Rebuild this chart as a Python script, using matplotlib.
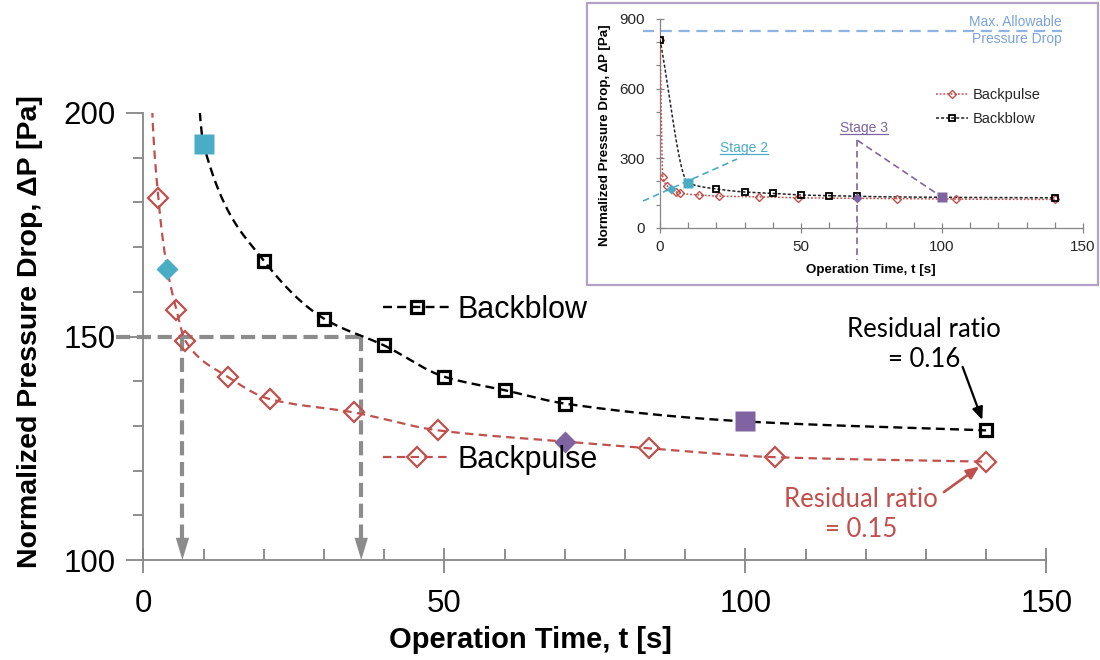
import numpy as np
import matplotlib
matplotlib.use("Agg")
import matplotlib.pyplot as plt
from matplotlib.patches import Rectangle
from matplotlib.lines import Line2D

# ---------------- data ----------------
bp_t = [0, 1, 2.5, 4, 5.5, 7, 14, 21, 35, 49, 70, 84, 105, 140]
bp_p = [810, 220, 181, 165, 156, 149, 141, 136, 133, 129, 126.5, 125, 123, 122]
bb_t = [0, 10, 20, 30, 40, 50, 60, 70, 100, 140]
bb_p = [810, 193, 167, 154, 148, 141, 138, 135, 131, 129]
bp_stage2, bp_stage3 = 3, 10      # indices of highlighted backpulse points
bb_stage2, bb_stage3 = 1, 8       # indices of highlighted backblow points
threshold = 150                   # guide level
cross_t = [6.5, 36.2]             # times where curves reach the guide level
max_allow = 850
res_bb_label = "Residual ratio\n= 0.16"
res_bp_label = "Residual ratio\n= 0.15"

RED = "#C0504D"
CYAN = "#4BACC6"
PURPLE = "#8064A2"
GREY = "#8C8C8C"
SPINE = "#868686"

plt.rcParams["font.family"] = ["Liberation Sans", "DejaVu Sans"]


def smooth(x, y, n=40):
    """Monotone cubic rendering of a 'smoothed line' through the data points."""
    x = np.asarray(x, float)
    y = np.asarray(y, float)
    h = np.diff(x)
    d = np.diff(y) / h
    m = np.zeros_like(y)
    m[0], m[-1] = d[0], d[-1]
    for k in range(1, len(x) - 1):
        if d[k - 1] * d[k] > 0:
            w1 = 2 * h[k] + h[k - 1]
            w2 = h[k] + 2 * h[k - 1]
            m[k] = (w1 + w2) / (w1 / d[k - 1] + w2 / d[k])
    xs, ys = [], []
    for k in range(len(h)):
        s = np.linspace(0, 1, n, endpoint=(k == len(h) - 1))
        h00 = 2 * s**3 - 3 * s**2 + 1
        h10 = s**3 - 2 * s**2 + s
        h01 = -2 * s**3 + 3 * s**2
        h11 = s**3 - s**2
        xs.append(x[k] + s * h[k])
        ys.append(h00 * y[k] + h10 * h[k] * m[k] + h01 * y[k + 1] + h11 * h[k] * m[k + 1])
    return np.concatenate(xs), np.concatenate(ys)


bp_t_a, bp_p_a = np.array(bp_t), np.array(bp_p)
bb_t_a, bb_p_a = np.array(bb_t), np.array(bb_p)
bp_mask = np.ones(len(bp_t), bool); bp_mask[[bp_stage2, bp_stage3]] = False
bb_mask = np.ones(len(bb_t), bool); bb_mask[[bb_stage2, bb_stage3]] = False

fig = plt.figure(figsize=(11, 6.6), dpi=100)

# ================= main axes =================
ax = fig.add_axes([143.3 / 1100, 1 - 560 / 660, 903 / 1100, 447 / 660])
ax.set_xlim(0, 150)
ax.set_ylim(100, 200)
for s in ("top", "right"):
    ax.spines[s].set_visible(False)
for s in ("left", "bottom"):
    ax.spines[s].set_color(SPINE)
    ax.spines[s].set_linewidth(1.3)

ax.set_xticks([0, 50, 100, 150])
ax.set_xticks(np.arange(0, 151, 10), minor=True)
ax.set_yticks([100, 150, 200])
ax.set_yticks(np.arange(100, 201, 10), minor=True)
ax.tick_params(axis="x", which="major", direction="inout", length=18, width=1.3,
               color=SPINE, labelsize=22.5, pad=12)
ax.tick_params(axis="x", which="minor", direction="in", length=8, width=1.3, color=SPINE)
ax.tick_params(axis="y", which="major", direction="out", length=12, width=1.3,
               color=SPINE, labelsize=22.5, pad=8)
ax.tick_params(axis="y", which="minor", direction="out", length=7, width=1.3, color=SPINE)

# smoothed series lines
xs, ys = smooth(bp_t, bp_p)
ax.plot(xs, ys, color=RED, lw=1.6, dashes=(3.8, 2.4), zorder=3)
xs, ys = smooth(bb_t, bb_p)
ax.plot(xs, ys, color="black", lw=1.7, dashes=(3.8, 2.2), zorder=3)

# markers
ax.plot(bp_t_a[bp_mask], bp_p_a[bp_mask], ls="none", marker="D", ms=10.5,
        mfc="none", mec=RED, mew=1.6, zorder=4)
ax.plot(bb_t_a[bb_mask], bb_p_a[bb_mask], ls="none", marker="s", ms=9,
        mfc="none", mec="black", mew=2.3, zorder=4)
ax.plot(bp_t[bp_stage2], bp_p[bp_stage2], ls="none", marker="D", ms=11, mfc=CYAN, mec="none", zorder=5)
ax.plot(bp_t[bp_stage3], bp_p[bp_stage3], ls="none", marker="D", ms=11.5, mfc=PURPLE, mec="none", zorder=5)
ax.plot(bb_t[bb_stage2], bb_p[bb_stage2], ls="none", marker="s", ms=15, mfc=CYAN, mec="none", zorder=5)
ax.plot(bb_t[bb_stage3], bb_p[bb_stage3], ls="none", marker="s", ms=15, mfc=PURPLE, mec="none", zorder=5)

# grey guide lines with arrows
ax.plot([-4.6, cross_t[1]], [threshold, threshold], color=GREY, lw=3.0,
        dashes=(3.4, 1.6), clip_on=False, zorder=2, solid_capstyle="butt")
for ct in cross_t:
    ax.plot([ct, ct], [threshold, 103.5], color=GREY, lw=3.0, dashes=(3.4, 1.6), zorder=2)
    ax.annotate("", xy=(ct, 100), xytext=(0, 16), textcoords="offset points",
                arrowprops=dict(arrowstyle="-|>,head_length=1.6,head_width=0.48",
                                color=GREY, lw=0, shrinkA=0, shrinkB=0), zorder=2)

# residual ratio annotations
ax.text(129.7, 148.1, res_bb_label, ha="center", va="center", fontsize=18.5,
        family="Lato", color="black", linespacing=1.25)
ax.annotate("", xy=(bb_t[-1], bb_p[-1]), xytext=(136.1, 143.2),
            arrowprops=dict(arrowstyle="-|>,head_length=0.75,head_width=0.32",
                            color="black", lw=1.6, shrinkA=0, shrinkB=8))
ax.text(119.2, 110.1, res_bp_label, ha="center", va="center", fontsize=18.5,
        family="Lato", color=RED, linespacing=1.25)
ax.annotate("", xy=(bp_t[-1], bp_p[-1]), xytext=(133.0, 115.2),
            arrowprops=dict(arrowstyle="-|>,head_length=0.75,head_width=0.32",
                            color=RED, lw=1.9, shrinkA=0, shrinkB=6))

ax.set_xlabel("Operation Time, t [s]", fontsize=21, fontweight="bold")
ax.xaxis.set_label_coords((530 - 143.3) / 903, (560 - 640) / 447)
ax.xaxis.label.set_va("center")
ax.set_ylabel("Normalized Pressure Drop, \u0394P [Pa]", fontsize=20.5, fontweight="bold")
ax.yaxis.set_label_coords((30 - 143.3) / 903, (560 - 332) / 447)
ax.yaxis.label.set_va("center")

# main legends (two separate entries)
h_bb = Line2D([], [], color="black", lw=1.7, dashes=(3.8, 2.2), marker="s", ms=9,
              mfc="none", mec="black", mew=2.3)
h_bp = Line2D([], [], color=RED, lw=1.6, dashes=(3.8, 2.4), marker="D", ms=10.5,
              mfc="none", mec=RED, mew=1.6)
leg_kw = dict(loc="center left", bbox_transform=fig.transFigure, frameon=False,
              fontsize=22, handlelength=2.2, handletextpad=0.25, borderpad=0,
              borderaxespad=0, numpoints=1)
leg1 = ax.legend([h_bb], ["Backblow"], bbox_to_anchor=(383 / 1100, 1 - 310 / 660), **leg_kw)
ax.add_artist(leg1)
ax.legend([h_bp], ["Backpulse"], bbox_to_anchor=(383 / 1100, 1 - 460 / 660), **leg_kw)

# ================= inset =================
frame = Rectangle((587 / 1100, 1 - 285 / 660), 511 / 1100, 282 / 660,
                  transform=fig.transFigure, facecolor="white", edgecolor="#B3A2C7",
                  lw=1.6, zorder=2)
fig.patches.append(frame)

ins = fig.add_axes([660 / 1100, 1 - 227.7 / 660, 423 / 1100, 208.7 / 660], zorder=3)
ins.set_facecolor("none")
ins.set_xlim(0, 150)
ins.set_ylim(0, 900)
for s in ("top", "right"):
    ins.spines[s].set_visible(False)
for s in ("left", "bottom"):
    ins.spines[s].set_color(SPINE)
    ins.spines[s].set_linewidth(0.9)
ins.set_xticks([0, 50, 100, 150])
ins.set_xticks(np.arange(0, 151, 10), minor=True)
ins.set_yticks([0, 300, 600, 900])
ins.set_yticks(np.arange(0, 901, 100), minor=True)
ins.tick_params(axis="x", which="major", direction="inout", length=7, width=0.9,
                color=SPINE, labelsize=11, pad=5, labelcolor="#262626")
ins.tick_params(axis="x", which="minor", direction="in", length=4, width=0.9, color=SPINE)
ins.tick_params(axis="y", which="major", direction="inout", length=6, width=0.9,
                color=SPINE, labelsize=11, pad=8, labelcolor="#262626")
ins.tick_params(axis="y", which="minor", direction="out", length=3, width=0.9, color=SPINE)

xs, ys = smooth(bp_t, bp_p)
ins.plot(xs, ys, color=RED, lw=1.1, dashes=(1.2, 1.2), zorder=3)
xs, ys = smooth(bb_t, bb_p)
ins.plot(xs, ys, color="#222222", lw=1.1, dashes=(2.0, 1.3), zorder=3)
ins.plot(bp_t_a[bp_mask], bp_p_a[bp_mask], ls="none", marker="D", ms=4.2,
         mfc="none", mec=RED, mew=1.0, zorder=4)
ins.plot(bb_t_a[bb_mask], bb_p_a[bb_mask], ls="none", marker="s", ms=4.2,
         mfc="none", mec="black", mew=1.3, zorder=4)
ins.plot(bp_t[bp_stage2], bp_p[bp_stage2], ls="none", marker="D", ms=5.2, mfc=CYAN, mec="none", zorder=5)
ins.plot(bp_t[bp_stage3], bp_p[bp_stage3], ls="none", marker="D", ms=4.8, mfc=PURPLE, mec="none", zorder=5)
ins.plot(bb_t[bb_stage2], bb_p[bb_stage2], ls="none", marker="s", ms=7.5, mfc=CYAN, mec="none", zorder=5)
ins.plot(bb_t[bb_stage3], bb_p[bb_stage3], ls="none", marker="s", ms=7.5, mfc=PURPLE, mec="none", zorder=5)

# max allowable pressure drop
ins.plot([-6, 142.5], [max_allow, max_allow], color="#8EB4E3", lw=1.6,
         dashes=(5, 3), clip_on=False, zorder=2)
ins.text(142.5, 869, "Max. Allowable", ha="right", va="baseline", fontsize=10, color="#7BA3DA")
ins.text(142.5, 797, "Pressure Drop", ha="right", va="baseline", fontsize=10, color="#7BA3DA")

# stage callouts
ins.plot([-6, 27.3], [115, 296], color=CYAN, lw=1.2, dashes=(4, 2.5), clip_on=False, zorder=2)
ins.plot([70, 70], [377, -140], color=PURPLE, lw=1.2, dashes=(4, 2.5), clip_on=False, zorder=2)
ins.plot([70, 99], [377, 140], color=PURPLE, lw=1.2, dashes=(4, 2.5), clip_on=False, zorder=2)
st2 = ins.text(29.8, 343, "Stage 2", ha="center", va="center", fontsize=10, color=CYAN)
st3 = ins.text(72.3, 430, "Stage 3", ha="center", va="center", fontsize=10, color=PURPLE)

ins.set_xlabel("Operation Time, t [s]", fontsize=9.6, fontweight="bold")
ins.xaxis.set_label_coords(0.499, -0.203)
ins.xaxis.label.set_va("center")
ins.set_ylabel("Normalized Pressure Drop, \u0394P [Pa]", fontsize=9.6, fontweight="bold")
ins.yaxis.set_label_coords(-0.13, 0.444)
ins.yaxis.label.set_va("center")

hi_bp = Line2D([], [], color=RED, lw=1.1, dashes=(1.2, 1.2), marker="D", ms=4.2,
               mfc="none", mec=RED, mew=1.0)
hi_bb = Line2D([], [], color="#222222", lw=1.1, dashes=(2.0, 1.3), marker="s", ms=4.2,
               mfc="none", mec="black", mew=1.3)
ins.legend([hi_bp, hi_bb], ["Backpulse", "Backblow"], loc="center left",
           bbox_to_anchor=(936 / 1100, 1 - 107 / 660), bbox_transform=fig.transFigure,
           frameon=False, fontsize=10.5, handlelength=2.2, handletextpad=0.3,
           labelspacing=0.7, borderpad=0, borderaxespad=0, numpoints=1,
           labelcolor="#262626")

# underline the stage labels
fig.canvas.draw()
r = fig.canvas.get_renderer()
inv = fig.transFigure.inverted()
for t, c in ((st2, CYAN), (st3, PURPLE)):
    bb = t.get_window_extent(r)
    (x0, y0), (x1, _) = inv.transform([(bb.x0, bb.y0 + 1), (bb.x1, bb.y0 + 1)])
    fig.add_artist(Line2D([x0, x1], [y0, y0], transform=fig.transFigure, color=c, lw=0.9, zorder=4))

fig.savefig("out.png", dpi=100)
